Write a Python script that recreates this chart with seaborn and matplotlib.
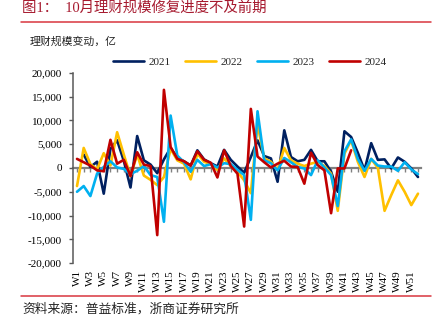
import numpy as np
import pandas as pd
import matplotlib
matplotlib.use("Agg")
import matplotlib.pyplot as plt
from matplotlib.lines import Line2D
import seaborn as sns

# ---------------- data ----------------
weeks = list(range(1, 53))
week_labels = [f"W{w}" for w in weeks]
years = ["2021", "2022", "2023", "2024"]
colors = ["#002060", "#FFC000", "#00B0F0", "#C00000"]

y2021 = [np.nan, 2800, 200, 1300, -5400, 4000, 5800, 1500, -4100, 6700,
         1600, 700, -1100, 1800, 4200, 2100, 1400, 500, 3700, 1800,
         1000, 300, 3800, 1700, 300, -1000, 2300, 5800, 2500, 2000,
         -2900, 7900, 2300, 1400, 1700, 3800, 1400, 1400, -800, -5000,
         7700, 6500, 3200, -500, 5200, 1700, 1800, -100, 2200, 1300,
         -100, -1900]
y2022 = [-3800, 4200, 800, -300, 3100, 500, 7500, 2800, -1700, 2800,
         -1600, -2500, -3600, -1900, 4000, 1600, 900, -2400, 3000, 1300,
         800, -400, 2000, 400, -800, -2600, -5300, 9200, 2000, 1300,
         -400, 4200, 1600, 900, 400, 900, 1300, 400, -1200, -9000,
         3000, 5800, 1300, -1900, 1900, 0, -9000, -5700, -2600, -5000,
         -7800, -5400]
y2023 = [-5000, -3800, -5900, -1200, 200, 1400, 100, -200, -1300, -600,
         400, -1500, -1900, -11300, 11000, 2600, 1200, -800, 1700, 400,
         800, 100, 1000, 800, -400, -1500, -10900, 11900, 1600, 1000,
         -500, 2100, 1200, 200, -100, -1500, 1600, 100, -1500, -8000,
         3500, 6000, 1900, -600, 1900, 500, 300, 300, -600, 1200,
         -300, -1300]
y2024 = [1900, 1200, 500, -500, -700, 5900, 900, 1700, -1700, 3300,
         700, 400, -14100, 16400, 4400, 1900, 1400, 500, 3500, 1700,
         1100, -2000, 3700, 400, -1200, -12300, 12400, 2400, 1200, 100,
         900, 1500, 300, 200, -3300, 3200, 600, -500, -9500, -100,
         -100, 3700] + [np.nan] * 10

ytick_vals = [-20000, -15000, -10000, -5000, 0, 5000, 10000, 15000, 20000]

frames = []
for yr, vals in zip(years, [y2021, y2022, y2023, y2024]):
    frames.append(pd.DataFrame({"week": weeks, "value": vals, "year": yr}))
df = pd.concat(frames, ignore_index=True).dropna()

# ---------------- style ----------------
sns.set_style("white")
plt.rcParams["font.family"] = ["Liberation Serif", "Noto Sans CJK SC"]
plt.rcParams["axes.unicode_minus"] = False

W, H = 442, 331
fig = plt.figure(figsize=(W / 100, H / 100), dpi=100)
ax = fig.add_axes([73 / W, 1 - 263.2 / H, 348 / W, (263.2 - 72.7) / H])

sns.lineplot(data=df, x="week", y="value", hue="year", hue_order=years,
             palette=dict(zip(years, colors)), linewidth=1.9,
             estimator=None, sort=True, legend=False, ax=ax)

ax.set_xlim(0.4, 52.45)
ax.set_ylim(-20000, 20000)
ax.set_xlabel("")
ax.set_ylabel("")

# y axis
ax.set_yticks(ytick_vals)
ax.set_yticklabels([f"{v:,}" for v in ytick_vals])
ax.tick_params(axis="y", which="both", left=True, length=3, width=1,
               color="#595959", pad=5, labelsize=8, labelcolor="black")

# x labels at the bottom
ax.set_xticks(weeks[::2])
ax.set_xticklabels(week_labels[::2], rotation=90)
ax.tick_params(axis="x", length=0, pad=5, labelsize=8, labelcolor="black")

for s in ["top", "right", "bottom"]:
    ax.spines[s].set_visible(False)
ax.spines["left"].set_color("#595959")
ax.spines["left"].set_linewidth(1.1)
ax.grid(False)

# zero line with weekly ticks
sec = ax.secondary_xaxis(0.5)
sec.set_alignment("bottom")
sec.set_xticks(weeks)
sec.tick_params(axis="x", length=3, width=1, color="#808080",
                labelbottom=False, labeltop=False, direction="out")
sec.spines["bottom"].set_color("#808080")
sec.spines["bottom"].set_linewidth(1.6)

# legend
handles = ax.get_lines()[:4]
fig.legend(handles, years, loc="center", bbox_to_anchor=(249.5 / W, 1 - 62 / H),
           ncol=4, frameon=False, fontsize=8, handlelength=2.85,
           handletextpad=0.35, columnspacing=1.3, borderpad=0.2)

# title & decorations
fig.text(22 / W, 1 - 7.5 / H, "图1：  10月理财规模修复进度不及前期",
         color="#A6192E", fontsize=10.4, va="center", ha="left")
fig.add_artist(Line2D([21 / W, 431 / W], [1 - 21.5 / H] * 2,
                      color="#D9363E", linewidth=1.1))
fig.text(30 / W, 1 - 42 / H, "理财规模变动，亿", fontsize=7.8,
         va="center", ha="left", color="#222222")
fig.add_artist(Line2D([21 / W, 431 / W], [1 - 296 / H] * 2,
                      color="#D9363E", linewidth=1.1))
fig.text(22 / W, 1 - 309 / H, "资料来源：普益标准，浙商证券研究所",
         fontsize=9.2, va="center", ha="left", color="#222222")

fig.savefig("out.png", dpi=100)
